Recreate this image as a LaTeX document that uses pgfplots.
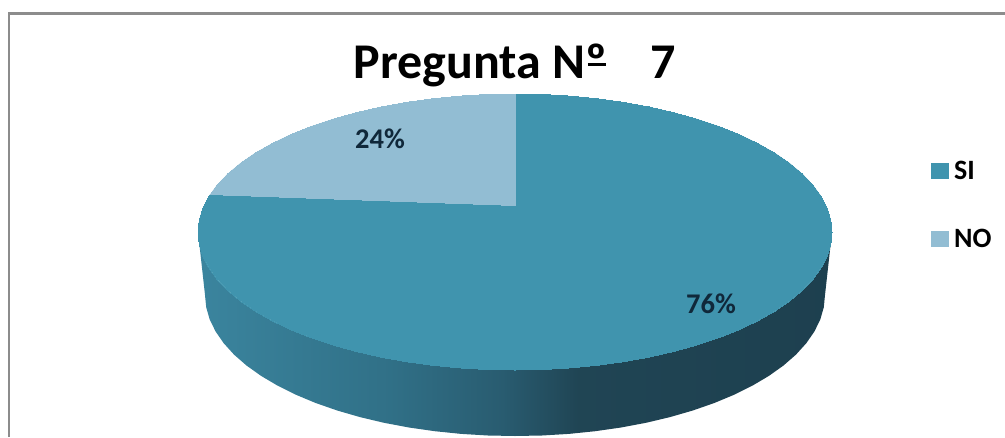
\documentclass[border=0pt]{standalone}
\usepackage{fontspec}
\setmainfont{Carlito}
\usepackage{pgfplots}
\pgfplotsset{compat=1.18}

\definecolor{sicol}{HTML}{4094AE}
\definecolor{nocol}{HTML}{92BDD3}
\definecolor{labcol}{HTML}{10283A}

% side of the pie, light on the left and dark towards the right
\pgfdeclarehorizontalshading{sideshade}{100bp}{
  rgb(0bp)=(0.23,0.52,0.62);
  rgb(25bp)=(0.23,0.52,0.62);
  rgb(40bp)=(0.19,0.44,0.53);
  rgb(49bp)=(0.16,0.36,0.44);
  rgb(55bp)=(0.125,0.27,0.33);
  rgb(75bp)=(0.115,0.25,0.31);
  rgb(100bp)=(0.115,0.25,0.31)}

\begin{document}
\begin{tikzpicture}
\useasboundingbox (0,0) rectangle (1005pt,437pt);
\begin{axis}[
    at={(0,0)}, anchor=south west,
    width=1005pt, height=437pt,
    scale only axis,
    hide axis,
    clip=false,
    xmin=0, xmax=1005,
    ymin=0, ymax=437,
    y dir=reverse,
    legend style={
        at={(axis cs:928,157)}, anchor=north west,
        draw=none, fill=none,
        font=\fontsize{28}{28}\selectfont\bfseries,
        row sep=44pt,
    },
    legend cell align=left,
    legend image code/.code={
        \fill[#1] (0pt,-7.5pt) rectangle (17pt,7.5pt);
    },
]

% frame, only top and left are inside the picture
\addplot[forget plot, color=gray!90, line width=2.5pt] coordinates {(9,437) (9,13.5) (1005,13.5)};

% side
\addplot[forget plot, draw=none, shade, shading=sideshade] coordinates {
  (198,232) (199.2,244) (202.8,256) (208.8,267.7) (217.1,279.2) (227.7,290.3)
  (240.5,301) (255.3,311.2) (272.2,320.7) (290.8,329.6) (311.2,337.7) (333.2,345)
  (356.5,351.5) (381,357.1) (406.6,361.7) (433,365.3) (460,367.9) (487.4,369.5)
  (515,370) (542.6,369.5) (570,367.9) (597,365.3) (623.4,361.7) (649,357.1)
  (673.5,351.5) (696.8,345) (718.8,337.7) (739.2,329.6) (757.8,320.7) (774.7,311.2)
  (789.5,301) (802.3,290.3) (812.9,279.2) (821.2,267.7) (827.2,256) (830.8,244)
  (832,232)
  (825,295) (823.8,307.3) (820.3,319.5) (814.4,331.5) (806.3,343.2) (796,354.6)
  (783.5,365.5) (768.9,375.9) (752.5,385.6) (734.2,394.7) (714.3,403) (692.8,410.5)
  (670,417.1) (646,422.8) (621,427.5) (595.2,431.2) (568.8,433.9) (542,435.5)
  (515,436) (488,435.5) (461.2,433.9) (434.8,431.2) (409,427.5) (384,422.8)
  (360,417.1) (337.2,410.5) (315.7,403) (295.8,394.7) (277.5,385.6) (261.1,375.9)
  (246.5,365.5) (234,354.6) (223.7,343.2) (215.6,331.5) (209.7,319.5) (206.2,307.3)
  (205,295)
} -- cycle;

% SI, 76%
\addplot[sicol, fill=sicol, no marks, line width=0pt] coordinates {
  (515,205.5) (210,194.5) (208.8,196.3) (202.8,208) (199.2,220)
  (198,232) (199.2,244) (202.8,256) (208.8,267.7) (217.1,279.2) (227.7,290.3)
  (240.5,301) (255.3,311.2) (272.2,320.7) (290.8,329.6) (311.2,337.7) (333.2,345)
  (356.5,351.5) (381,357.1) (406.6,361.7) (433,365.3) (460,367.9) (487.4,369.5)
  (515,370) (542.6,369.5) (570,367.9) (597,365.3) (623.4,361.7) (649,357.1)
  (673.5,351.5) (696.8,345) (718.8,337.7) (739.2,329.6) (757.8,320.7) (774.7,311.2)
  (789.5,301) (802.3,290.3) (812.9,279.2) (821.2,267.7) (827.2,256) (830.8,244)
  (832,232)
  (830.8,220) (827.2,208) (821.2,196.3) (812.9,184.8) (802.3,173.7) (789.5,163)
  (774.7,152.8) (757.8,143.3) (739.2,134.4) (718.8,126.3) (696.8,119) (673.5,112.5)
  (649,106.9) (623.4,102.3) (597,98.7) (570,96.1) (542.6,94.5) (515,94)
} -- cycle;
\addlegendentry{\hspace*{4pt}SI}

% NO, 24%
\addplot[nocol, fill=nocol, no marks, line width=0pt] coordinates {
  (515,205.5) (515,94) (487.4,94.5) (460,96.1) (433,98.7) (406.6,102.3) (381,106.9)
  (356.5,112.5) (333.2,119) (311.2,126.3) (290.8,134.4) (272.2,143.3) (255.3,152.8)
  (240.5,163) (227.7,173.7) (217.1,184.8) (210,194.5)
} -- cycle;
\addlegendentry{\hspace*{4pt}NO}

\node[text=labcol, font=\fontsize{28.5}{28.5}\selectfont\bfseries] at (axis cs:380,139) {24\%};
\node[text=labcol, font=\fontsize{28.5}{28.5}\selectfont\bfseries] at (axis cs:711,304) {76\%};

\node[text=black, font=\fontsize{50}{50}\selectfont\bfseries] at (axis cs:515,65)
  {Pregunta Nº\llap{\rule[12pt]{0.36em}{3pt}\kern0.03em}\hspace{0.87em}7};

\end{axis}
\end{tikzpicture}
\end{document}
